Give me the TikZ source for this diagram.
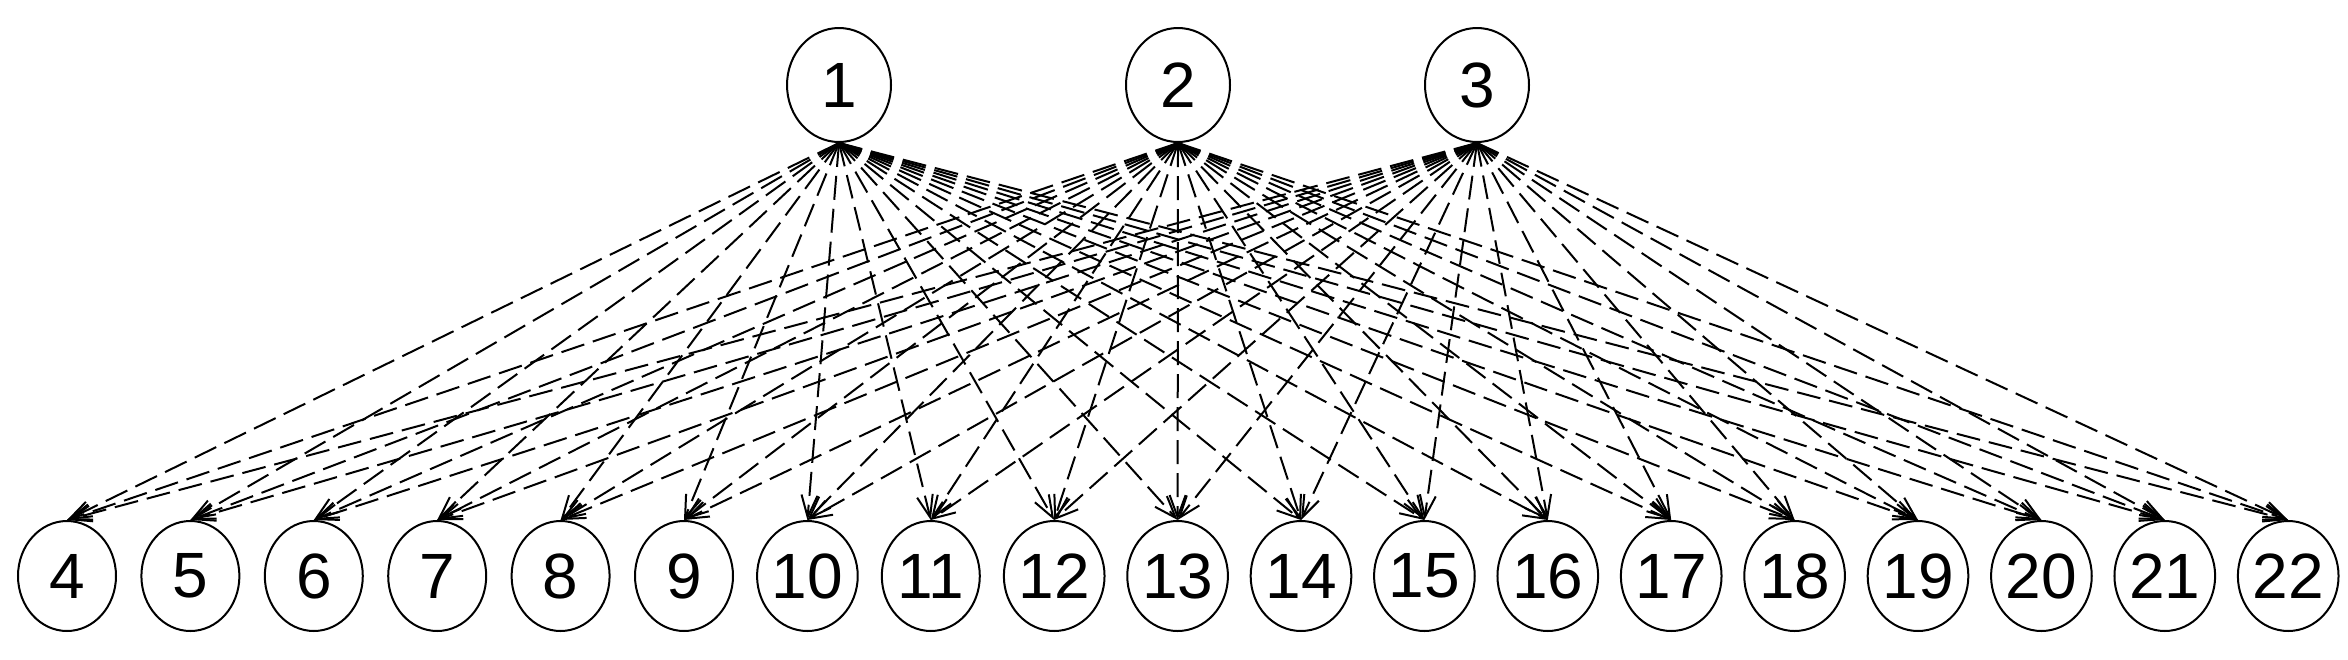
\documentclass[tikz,border=0pt]{standalone}
\usepackage{fontspec}
\setmainfont{Liberation Sans}
\usetikzlibrary{arrows.meta,shapes.geometric}
\begin{document}
\begin{tikzpicture}[x=1pt,y=-1pt,
  topn/.style={draw,line width=2pt,ellipse,minimum width=104pt,minimum height=114pt,inner sep=0pt,font=\fontsize{64}{64}\selectfont},
  botn/.style={draw,line width=2pt,ellipse,minimum width=98pt,minimum height=110pt,inner sep=0pt,font=\fontsize{64}{64}\selectfont},
  edge/.style={line width=2pt,dash pattern=on 24pt off 9pt,-{Straight Barb[length=22pt,width=16pt,line width=2pt]}}]
\useasboundingbox (0,0) rectangle (2348,659);
\node[topn] (n1) at (839,85) {1};
\node[topn] (n2) at (1178,85) {2};
\node[topn] (n3) at (1477,85) {3};
\foreach \i in {4,...,22}{
  \node[botn] (n\i) at ({67+123.4*(\i-4)},576) {\i};
}
\foreach \t in {1,2,3}{
  \foreach \i in {4,...,22}{
    \draw[edge] (n\t.south) -- (n\i.north);
  }
}
\end{tikzpicture}
\end{document}
